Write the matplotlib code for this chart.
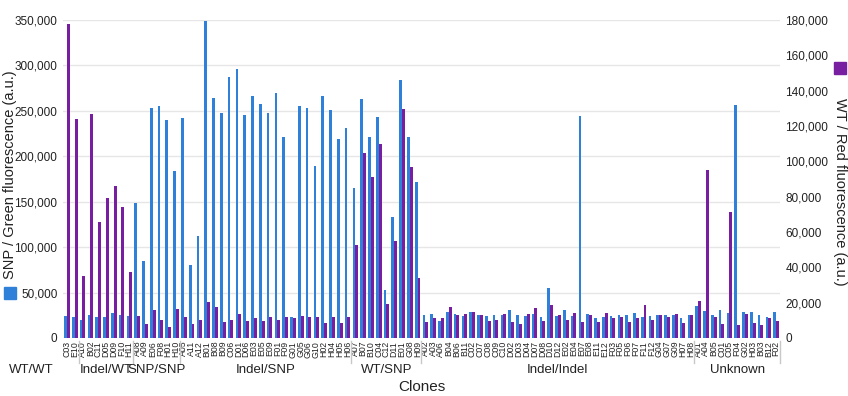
import numpy as np
import matplotlib
matplotlib.use('Agg')
import matplotlib.pyplot as plt
import matplotlib.transforms as mtransforms
from matplotlib.patches import Rectangle

plt.rcParams['font.family'] = ['Liberation Sans', 'DejaVu Sans']

group_names = ['WT/WT', 'Indel/WT', 'SNP/SNP', 'Indel/SNP', 'WT/SNP', 'Indel/Indel', 'Unknown']
group_sizes = [2, 7, 6, 22, 9, 35, 11]

clones = ['C03', 'E10',
          'A10', 'B02', 'C11', 'D05', 'D09', 'F10', 'H11',
          'A08', 'A09', 'E06', 'F08', 'H01', 'H10',
          'A05', 'A11', 'A12', 'B01', 'B08', 'B09', 'C06', 'D01', 'D06', 'E03', 'E05',
          'E09', 'F01', 'F09', 'G01', 'G05', 'G06', 'G10', 'H02', 'H04', 'H05', 'H06',
          'A07', 'B07', 'B10', 'C04', 'C12', 'D11', 'E01', 'G08', 'H09',
          'A02', 'A03', 'A06', 'B04', 'B06', 'B11', 'C02', 'C07', 'C08', 'C09', 'C10',
          'D02', 'D03', 'D04', 'D07', 'D08', 'D10', 'D12', 'E02', 'E04', 'E07', 'E08',
          'E11', 'E12', 'F03', 'F05', 'F06', 'F07', 'F11', 'F12', 'G04', 'G07', 'G09',
          'H07', 'H08',
          'A01', 'A04', 'B05', 'C01', 'C05', 'F04', 'G02', 'H03', 'B03', 'B12', 'F02']

# SNP / green fluorescence (left axis)
green = [24200, 23500,
         19800, 25300, 23500, 23500, 27100, 25300, 24200,
         148900, 84700, 252800, 255700, 240000, 183800,
         241800, 80300, 112300, 348500, 264500, 248000, 287600, 295700, 245400, 266700, 257200,
         248000, 270000, 221500, 23500, 255300, 253500, 189600, 266700, 250900, 219000, 231400,
         165400, 262700, 221200, 242900, 52800, 132800, 283900, 221200, 172000,
         25000, 26400, 19000, 29000, 26400, 24200, 28300, 25000, 24200, 24900, 24900,
         31200, 24900, 24200, 26400, 23100, 54700, 24200, 31200, 24500, 244300, 26400,
         22400, 23500, 24200, 24900, 24900, 27100, 23100, 24200, 25300, 24900, 25300,
         22400, 24900,
         35200, 29700, 25300, 31200, 27100, 256400, 28600, 28600, 24900, 23100, 28600]

# WT / red fluorescence (right axis)
red = [178000, 123800,
       35100, 126600, 65500, 79100, 86000, 74300, 37200,
       12450, 7900, 15800, 10200, 6000, 16200,
       11700, 7900, 10200, 20600, 17700, 9200, 10200, 13600, 9800, 11100, 9800,
       12100, 10200, 11700, 11100, 12500, 12100, 11700, 8300, 11700, 8300, 12100,
       52600, 104500, 91300, 109800, 19000, 54900, 129400, 97000, 33800,
       9200, 11500, 11500, 17700, 12800, 13600, 14700, 12800, 9500, 10200, 13600,
       9100, 7900, 13600, 17000, 9400, 18700, 12800, 10200, 14000, 9100, 13000,
       9100, 14000, 11500, 12100, 9100, 11500, 18600, 10200, 13000, 11900, 13600,
       8300, 13000,
       20900, 95100, 12100, 7900, 71500, 7400, 13600, 8300, 7400, 11100, 9400]

blue = '#2f80d8'
purple = '#781ea0'
txt = '#222222'

fig = plt.figure(figsize=(8.48, 3.96), dpi=100)
ax = fig.add_axes([0.0743, 0.1465, 0.8455, 0.803])
ax2 = ax.twinx()

x = np.arange(len(clones))
ax.bar(x - 0.18, green, width=0.34, color=blue, zorder=3)
ax2.bar(x + 0.18, red, width=0.38, color=purple, zorder=3)

ax.set_xlim(-0.5, len(clones) - 0.5)
ax.set_ylim(0, 350000)
ax2.set_ylim(0, 180000)
ax.set_yticks(np.arange(0, 350001, 50000))
ax2.set_yticks(np.arange(0, 180001, 20000))
ax.yaxis.set_major_formatter(matplotlib.ticker.StrMethodFormatter('{x:,.0f}'))
ax2.yaxis.set_major_formatter(matplotlib.ticker.StrMethodFormatter('{x:,.0f}'))
ax.grid(axis='y', color='#e6e6e6', linewidth=1, zorder=0)
ax.set_axisbelow(True)

for a in (ax, ax2):
    for s in a.spines.values():
        s.set_visible(False)
    a.tick_params(axis='y', length=0, labelsize=8.5, colors=txt, pad=4)
ax.tick_params(axis='x', length=0, pad=2)
ax.set_xticks(x)
ax.set_xticklabels(clones, rotation=90, fontsize=6.3, color=txt)

# group separators and names under the tick labels
trans = mtransforms.blended_transform_factory(ax.transData, ax.transAxes)
bounds = np.concatenate([[0], np.cumsum(group_sizes)])
for b in bounds[1:]:
    ax.plot([b - 0.5, b - 0.5], [-0.01, -0.08], transform=trans,
            color='#c8c8c8', linewidth=1, clip_on=False)
for i, name in enumerate(group_names):
    cx = (bounds[i] + bounds[i + 1] - 1) / 2
    if i == 0:
        cx = -4.6
    ax.text(cx, -0.1, name, transform=trans, ha='center', va='center',
            fontsize=9.5, color=txt)
ax.text(0.5, -0.155, 'Clones', transform=ax.transAxes, ha='center', va='center',
        fontsize=11, color=txt)

# axis titles with coloured square keys
fig.text(0.0115, 0.558, 'SNP / Green fluorescence (a.u.)', rotation=90,
         ha='center', va='center', fontsize=10.5, color=txt)
fig.text(0.990, 0.515, 'WT / Red fluorescence (a.u.)', rotation=270,
         ha='center', va='center', fontsize=10.5, color=txt)
fig.add_artist(Rectangle((0.0045, 0.245), 0.0142, 0.0303, color=blue,
                         transform=fig.transFigure))
fig.add_artist(Rectangle((0.983, 0.813), 0.0142, 0.0303, color=purple,
                         transform=fig.transFigure))

fig.savefig('out.png', dpi=100)
